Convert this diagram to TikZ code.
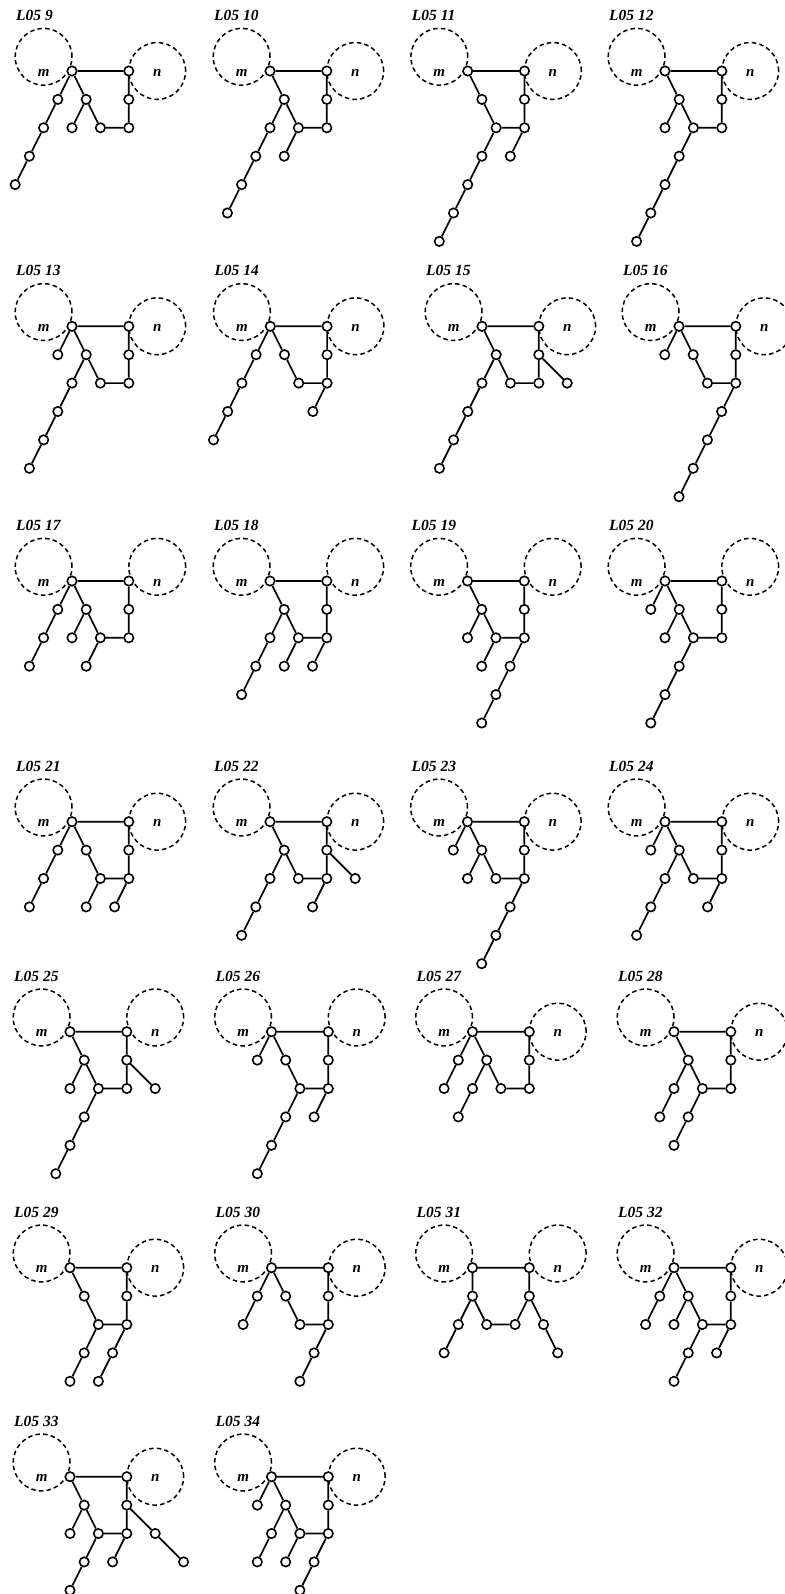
\documentclass[tikz,border=0pt]{standalone}
\usepackage{fontspec}
\setmainfont{Liberation Serif}
\tikzset{
  v/.style={circle, draw, fill=white, line width=1.6pt, inner sep=0pt, minimum size=9.4pt},
  ed/.style={line width=1.7pt},
  dc/.style={line width=1.5pt, dash pattern=on 4.5pt off 3.2pt},
  lab/.style={inner sep=0pt, font=\fontsize{15}{17}\selectfont\bfseries\itshape, yshift=-1.5pt},
  ttl/.style={inner sep=0pt, anchor=west, font=\fontsize{15.5}{18}\selectfont\bfseries\itshape},
  lat/.style={x=14.2pt, y=-28.4pt}
}
\newcommand\pframe[2]{%
  \draw[dc] (-2,-0.5) circle[radius=28.4pt];
  \draw[dc] (6,#2) circle[radius=28.4pt];
  \node[lab] (ml) at (-2,0) {m};
  \node[lab] (nl) at (6,0) {n};
  \node[ttl] (t) at (-56pt,55.5pt) {L05 #1};
  \node[v] (m) at (0,0) {};
  \node[v] (n) at (4,0) {};
}
\newcommand\ringnodes{%
  \node[v] (e) at (1,1) {};
  \node[v] (g) at (2,2) {};
  \node[v] (h) at (4,2) {};
  \node[v] (i) at (4,1) {};
}
\newcommand\ring{\draw[ed] (m) -- (n) -- (i) -- (h) -- (g) -- (e) -- (m);}
\begin{document}
\begin{tikzpicture}[x=1pt,y=-1pt]
\useasboundingbox (0,0) rectangle (784,1594);

% L05 9
\begin{scope}[shift={(72pt,-71pt)}, lat, name prefix=p9-]
\pframe{9}{0}\ringnodes
\node[v] (a) at (-1,1) {}; \node[v] (b) at (-2,2) {}; \node[v] (c) at (-3,3) {}; \node[v] (d) at (-4,4) {};
\node[v] (f) at (0,2) {};
\ring
\draw[ed] (m) -- (a) -- (b) -- (c) -- (d);
\draw[ed] (e) -- (f);
\end{scope}

% L05 10
\begin{scope}[shift={(270pt,-71pt)}, lat, name prefix=p10-]
\pframe{10}{0}\ringnodes
\node[v] (f) at (0,2) {}; \node[v] (a) at (-1,3) {}; \node[v] (b) at (-2,4) {}; \node[v] (c) at (-3,5) {};
\node[v] (j) at (1,3) {};
\ring
\draw[ed] (e) -- (f) -- (a) -- (b) -- (c);
\draw[ed] (g) -- (j);
\end{scope}

% L05 11
\begin{scope}[shift={(467.7pt,-71pt)}, lat, name prefix=p11-]
\pframe{11}{0}\ringnodes
\node[v] (a) at (1,3) {}; \node[v] (b) at (0,4) {}; \node[v] (c) at (-1,5) {}; \node[v] (d) at (-2,6) {};
\node[v] (k) at (3,3) {};
\ring
\draw[ed] (g) -- (a) -- (b) -- (c) -- (d);
\draw[ed] (h) -- (k);
\end{scope}

% L05 12
\begin{scope}[shift={(665pt,-71pt)}, lat, name prefix=p12-]
\pframe{12}{0}\ringnodes
\node[v] (f) at (0,2) {};
\node[v] (a) at (1,3) {}; \node[v] (b) at (0,4) {}; \node[v] (c) at (-1,5) {}; \node[v] (d) at (-2,6) {};
\ring
\draw[ed] (e) -- (f);
\draw[ed] (g) -- (a) -- (b) -- (c) -- (d);
\end{scope}

% L05 13
\begin{scope}[shift={(72pt,-326.3pt)}, lat, name prefix=p13-]
\pframe{13}{0}\ringnodes
\node[v] (x) at (-1,1) {}; \node[v] (f) at (0,2) {};
\node[v] (a) at (-1,3) {}; \node[v] (b) at (-2,4) {}; \node[v] (c) at (-3,5) {};
\ring
\draw[ed] (m) -- (x);
\draw[ed] (e) -- (f) -- (a) -- (b) -- (c);
\end{scope}

% L05 14
\begin{scope}[shift={(270.3pt,-326.3pt)}, lat, name prefix=p14-]
\pframe{14}{0}\ringnodes
\node[v] (a) at (-1,1) {}; \node[v] (b) at (-2,2) {}; \node[v] (c) at (-3,3) {}; \node[v] (d) at (-4,4) {};
\node[v] (k) at (3,3) {};
\ring
\draw[ed] (m) -- (a) -- (b) -- (c) -- (d);
\draw[ed] (h) -- (k);
\end{scope}

% L05 15
\begin{scope}[shift={(482pt,-326.3pt)}, lat, name prefix=p15-]
\pframe{15}{0}\ringnodes
\node[v] (f) at (0,2) {}; \node[v] (r) at (6,2) {};
\node[v] (a) at (-1,3) {}; \node[v] (b) at (-2,4) {}; \node[v] (c) at (-3,5) {};
\ring
\draw[ed] (e) -- (f) -- (a) -- (b) -- (c);
\draw[ed] (i) -- (r);
\end{scope}

% L05 16
\begin{scope}[shift={(679pt,-326.3pt)}, lat, name prefix=p16-]
\pframe{16}{0}\ringnodes
\node[v] (x) at (-1,1) {}; \node[v] (k) at (3,3) {};
\node[v] (a) at (2,4) {}; \node[v] (b) at (1,5) {}; \node[v] (c) at (0,6) {};
\ring
\draw[ed] (m) -- (x);
\draw[ed] (h) -- (k) -- (a) -- (b) -- (c);
\end{scope}

% L05 17
\begin{scope}[shift={(72pt,-581pt)}, lat, name prefix=p17-]
\pframe{17}{-0.5}\ringnodes
\node[v] (a) at (-1,1) {}; \node[v] (b) at (-2,2) {}; \node[v] (c) at (-3,3) {};
\node[v] (f) at (0,2) {}; \node[v] (j) at (1,3) {};
\ring
\draw[ed] (m) -- (a) -- (b) -- (c);
\draw[ed] (e) -- (f);
\draw[ed] (g) -- (j);
\end{scope}

% L05 18
\begin{scope}[shift={(270pt,-581pt)}, lat, name prefix=p18-]
\pframe{18}{-0.5}\ringnodes
\node[v] (f) at (0,2) {}; \node[v] (a) at (-1,3) {}; \node[v] (b) at (-2,4) {};
\node[v] (j) at (1,3) {}; \node[v] (k) at (3,3) {};
\ring
\draw[ed] (e) -- (f) -- (a) -- (b);
\draw[ed] (g) -- (j);
\draw[ed] (h) -- (k);
\end{scope}

% L05 19
\begin{scope}[shift={(467.5pt,-581pt)}, lat, name prefix=p19-]
\pframe{19}{-0.5}\ringnodes
\node[v] (f) at (0,2) {}; \node[v] (j) at (1,3) {};
\node[v] (k) at (3,3) {}; \node[v] (a) at (2,4) {}; \node[v] (b) at (1,5) {};
\ring
\draw[ed] (e) -- (f);
\draw[ed] (g) -- (j);
\draw[ed] (h) -- (k) -- (a) -- (b);
\end{scope}

% L05 20
\begin{scope}[shift={(665pt,-581pt)}, lat, name prefix=p20-]
\pframe{20}{-0.5}\ringnodes
\node[v] (x) at (-1,1) {}; \node[v] (f) at (0,2) {};
\node[v] (a) at (1,3) {}; \node[v] (b) at (0,4) {}; \node[v] (c) at (-1,5) {};
\ring
\draw[ed] (m) -- (x);
\draw[ed] (e) -- (f);
\draw[ed] (g) -- (a) -- (b) -- (c);
\end{scope}

% L05 21
\begin{scope}[shift={(72pt,-821.7pt)}, lat, name prefix=p21-]
\pframe{21}{0}\ringnodes
\node[v] (a) at (-1,1) {}; \node[v] (b) at (-2,2) {}; \node[v] (c) at (-3,3) {};
\node[v] (j) at (1,3) {}; \node[v] (k) at (3,3) {};
\ring
\draw[ed] (m) -- (a) -- (b) -- (c);
\draw[ed] (g) -- (j);
\draw[ed] (h) -- (k);
\end{scope}

% L05 22
\begin{scope}[shift={(270pt,-821.7pt)}, lat, name prefix=p22-]
\pframe{22}{0}\ringnodes
\node[v] (f) at (0,2) {}; \node[v] (r) at (6,2) {};
\node[v] (a) at (-1,3) {}; \node[v] (b) at (-2,4) {}; \node[v] (k) at (3,3) {};
\ring
\draw[ed] (e) -- (f) -- (a) -- (b);
\draw[ed] (i) -- (r);
\draw[ed] (h) -- (k);
\end{scope}

% L05 23
\begin{scope}[shift={(467.5pt,-821.7pt)}, lat, name prefix=p23-]
\pframe{23}{0}\ringnodes
\node[v] (x) at (-1,1) {}; \node[v] (f) at (0,2) {};
\node[v] (k) at (3,3) {}; \node[v] (a) at (2,4) {}; \node[v] (b) at (1,5) {};
\ring
\draw[ed] (m) -- (x);
\draw[ed] (e) -- (f);
\draw[ed] (h) -- (k) -- (a) -- (b);
\end{scope}

% L05 24
\begin{scope}[shift={(665pt,-821.7pt)}, lat, name prefix=p24-]
\pframe{24}{0}\ringnodes
\node[v] (x) at (-1,1) {}; \node[v] (f) at (0,2) {};
\node[v] (a) at (-1,3) {}; \node[v] (b) at (-2,4) {}; \node[v] (k) at (3,3) {};
\ring
\draw[ed] (m) -- (x);
\draw[ed] (e) -- (f) -- (a) -- (b);
\draw[ed] (h) -- (k);
\end{scope}

% L05 25
\begin{scope}[shift={(70pt,-1031.7pt)}, lat, name prefix=p25-]
\pframe{25}{-0.5}\ringnodes
\node[v] (f) at (0,2) {}; \node[v] (r) at (6,2) {};
\node[v] (a) at (1,3) {}; \node[v] (b) at (0,4) {}; \node[v] (c) at (-1,5) {};
\ring
\draw[ed] (e) -- (f);
\draw[ed] (i) -- (r);
\draw[ed] (g) -- (a) -- (b) -- (c);
\end{scope}

% L05 26
\begin{scope}[shift={(271.5pt,-1031.7pt)}, lat, name prefix=p26-]
\pframe{26}{-0.5}\ringnodes
\node[v] (x) at (-1,1) {};
\node[v] (a) at (1,3) {}; \node[v] (b) at (0,4) {}; \node[v] (c) at (-1,5) {};
\node[v] (k) at (3,3) {};
\ring
\draw[ed] (m) -- (x);
\draw[ed] (g) -- (a) -- (b) -- (c);
\draw[ed] (h) -- (k);
\end{scope}

% L05 27
\begin{scope}[shift={(472.5pt,-1031.7pt)}, lat, name prefix=p27-]
\pframe{27}{0}\ringnodes
\node[v] (a) at (-1,1) {}; \node[v] (b) at (-2,2) {};
\node[v] (f) at (0,2) {}; \node[v] (c) at (-1,3) {};
\ring
\draw[ed] (m) -- (a) -- (b);
\draw[ed] (e) -- (f) -- (c);
\end{scope}

% L05 28
\begin{scope}[shift={(674pt,-1031.7pt)}, lat, name prefix=p28-]
\pframe{28}{0}\ringnodes
\node[v] (f) at (0,2) {}; \node[v] (c) at (-1,3) {};
\node[v] (a) at (1,3) {}; \node[v] (b) at (0,4) {};
\ring
\draw[ed] (e) -- (f) -- (c);
\draw[ed] (g) -- (a) -- (b);
\end{scope}

% L05 29
\begin{scope}[shift={(70pt,-1267.7pt)}, lat, name prefix=p29-]
\pframe{29}{0}\ringnodes
\node[v] (a) at (1,3) {}; \node[v] (b) at (0,4) {};
\node[v] (k) at (3,3) {}; \node[v] (l) at (2,4) {};
\ring
\draw[ed] (g) -- (a) -- (b);
\draw[ed] (h) -- (k) -- (l);
\end{scope}

% L05 30
\begin{scope}[shift={(271.5pt,-1267.7pt)}, lat, name prefix=p30-]
\pframe{30}{0}\ringnodes
\node[v] (a) at (-1,1) {}; \node[v] (b) at (-2,2) {};
\node[v] (k) at (3,3) {}; \node[v] (l) at (2,4) {};
\ring
\draw[ed] (m) -- (a) -- (b);
\draw[ed] (h) -- (k) -- (l);
\end{scope}

% L05 31
\begin{scope}[shift={(472.5pt,-1267.7pt)}, lat, name prefix=p31-]
\pframe{31}{-0.5}
\node[v] (s) at (0,1) {}; \node[v] (a) at (-1,2) {}; \node[v] (b) at (-2,3) {};
\node[v] (t) at (1,2) {}; \node[v] (u) at (3,2) {}; \node[v] (i) at (4,1) {};
\node[v] (w) at (5,2) {}; \node[v] (z) at (6,3) {};
\draw[ed] (m) -- (n) -- (i) -- (u) -- (t) -- (s) -- (m);
\draw[ed] (s) -- (a) -- (b);
\draw[ed] (i) -- (w) -- (z);
\end{scope}

% L05 32
\begin{scope}[shift={(674pt,-1267.7pt)}, lat, name prefix=p32-]
\pframe{32}{0}\ringnodes
\node[v] (a) at (-1,1) {}; \node[v] (b) at (-2,2) {}; \node[v] (f) at (0,2) {};
\node[v] (j) at (1,3) {}; \node[v] (o) at (0,4) {}; \node[v] (k) at (3,3) {};
\ring
\draw[ed] (m) -- (a) -- (b);
\draw[ed] (e) -- (f);
\draw[ed] (g) -- (j) -- (o);
\draw[ed] (h) -- (k);
\end{scope}

% L05 33
\begin{scope}[shift={(70pt,-1476.7pt)}, lat, name prefix=p33-]
\pframe{33}{0}\ringnodes
\node[v] (f) at (0,2) {}; \node[v] (r) at (6,2) {}; \node[v] (z) at (8,3) {};
\node[v] (j) at (1,3) {}; \node[v] (o) at (0,4) {}; \node[v] (k) at (3,3) {};
\ring
\draw[ed] (e) -- (f);
\draw[ed] (i) -- (r) -- (z);
\draw[ed] (g) -- (j) -- (o);
\draw[ed] (h) -- (k);
\end{scope}

% L05 34
\begin{scope}[shift={(271.5pt,-1476.7pt)}, lat, name prefix=p34-]
\pframe{34}{0}\ringnodes
\node[v] (x) at (-1,1) {}; \node[v] (f) at (0,2) {}; \node[v] (a) at (-1,3) {};
\node[v] (j) at (1,3) {}; \node[v] (k) at (3,3) {}; \node[v] (l) at (2,4) {};
\ring
\draw[ed] (m) -- (x);
\draw[ed] (e) -- (f) -- (a);
\draw[ed] (g) -- (j);
\draw[ed] (h) -- (k) -- (l);
\end{scope}

\end{tikzpicture}
\end{document}
